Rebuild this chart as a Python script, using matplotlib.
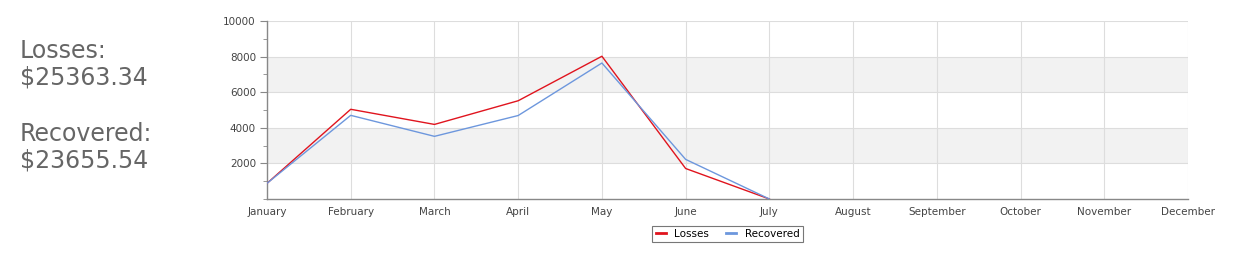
import matplotlib.pyplot as plt
from matplotlib.ticker import MultipleLocator

# --- Datos ---
months = ['January', 'February', 'March', 'April', 'May', 'June',
          'July', 'August', 'September', 'October', 'November', 'December']
losses    = [880, 5040, 4190, 5520, 8020, 1713.34, 0]
recovered = [880, 4700, 3520, 4690, 7640, 2225.54, 0]
total_losses = 25363.34
total_recovered = 23655.54

fig = plt.figure(figsize=(12.57, 2.63), dpi=100)
ax = fig.add_axes([267 / 1257, 1 - 199 / 263, 921 / 1257, 178 / 263])

# bandas alternas
for lo, hi in [(2000, 4000), (6000, 8000)]:
    ax.axhspan(lo, hi, color='#f2f2f2', zorder=0, lw=0)

x = range(len(months))
ax.plot(x[:len(losses)], losses, color='#e0141e', lw=1.0, label='Losses', zorder=3)
ax.plot(x[:len(recovered)], recovered, color='#6d97dd', lw=1.0, label='Recovered', zorder=3)

ax.set_xlim(0, len(months) - 1)
ax.set_ylim(0, 10000)
ax.set_xticks(list(x))
ax.set_xticklabels(months)
ax.set_yticks([2000, 4000, 6000, 8000, 10000])
ax.yaxis.set_minor_locator(MultipleLocator(1000))

ax.grid(True, color='#dddddd', lw=0.8, zorder=1)
for s in ['top', 'right']:
    ax.spines[s].set_visible(False)
for s in ['left', 'bottom']:
    ax.spines[s].set_color('#888888')
    ax.spines[s].set_linewidth(1.0)

ax.tick_params(axis='x', length=0, pad=6, labelsize=7.5, labelcolor='#444444')
ax.tick_params(axis='y', which='major', length=5, color='#888888', labelsize=7.5,
               labelcolor='#444444', pad=3)
ax.tick_params(axis='y', which='minor', length=3, color='#888888')

leg = ax.legend(loc='upper center', bbox_to_anchor=(0.5, -0.12), ncol=2,
                fontsize=7.5, frameon=True, fancybox=False, handlelength=1.0,
                borderpad=0.3, columnspacing=1.6, handletextpad=0.8)
leg.get_frame().set_edgecolor('#555555')
leg.get_frame().set_linewidth(0.8)
for line in leg.get_lines():
    line.set_linewidth(2)

fig.text(20 / 1257, 1 - 64 / 263, f'Losses:\n${total_losses:.2f}', fontsize=17,
         color='#666666', va='center', ha='left', linespacing=1.15)
fig.text(20 / 1257, 1 - 147 / 263, f'Recovered:\n${total_recovered:.2f}', fontsize=17,
         color='#666666', va='center', ha='left', linespacing=1.15)

fig.savefig('out.png', dpi=100)
